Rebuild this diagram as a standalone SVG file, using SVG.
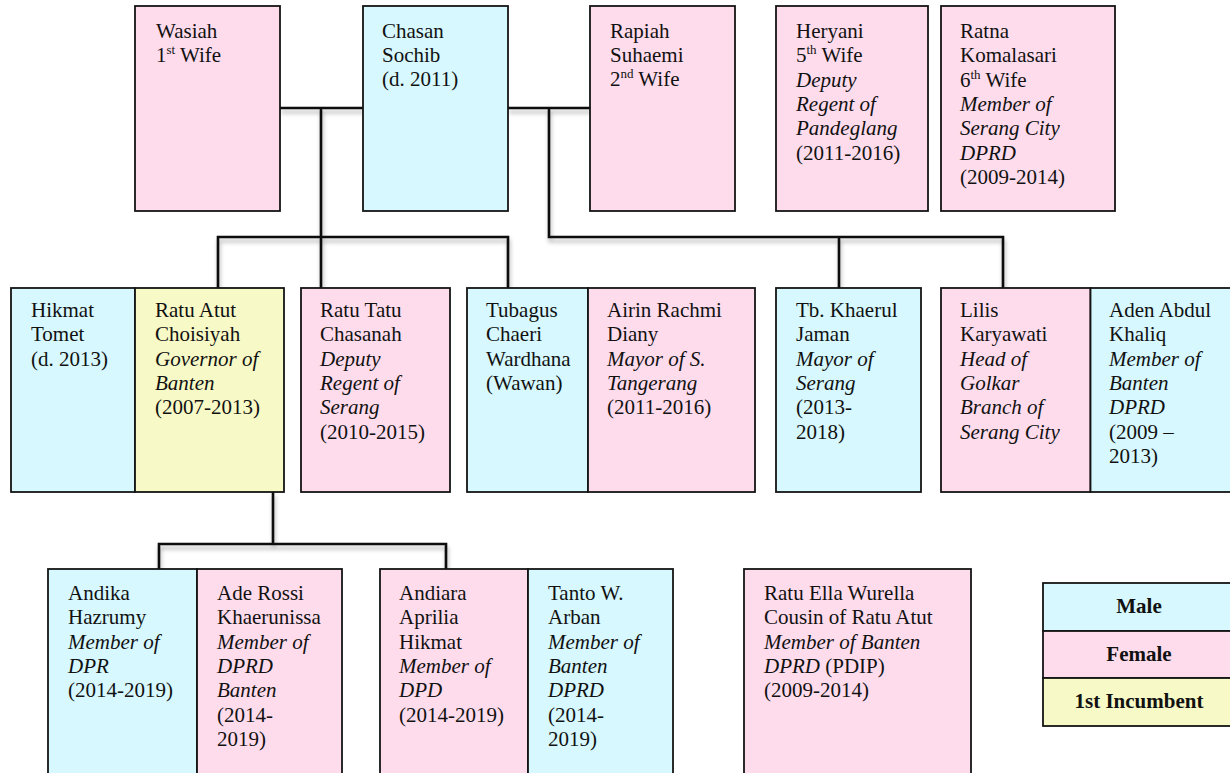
<svg xmlns="http://www.w3.org/2000/svg" width="1230" height="773" viewBox="0 0 1230 773">
<style>
.box{stroke:#141414;stroke-width:1.8}
.m{fill:#D6F8FE}
.f{fill:#FEDCEC}
.y{fill:#F7F9C6}
text{font-family:"Liberation Serif","Times New Roman",serif;font-size:21px;fill:#111}
.i{font-style:italic}
.b{font-weight:bold}
.sup{font-size:13px}
.lg{text-anchor:middle;font-weight:bold}
#connectors path{fill:none;stroke:#111;stroke-width:2.6}
</style>
<defs>
<filter id="sh" x="-10%" y="-10%" width="130%" height="130%">
<feDropShadow dx="1" dy="4" stdDeviation="2" flood-color="#000" flood-opacity="0.3"/>
</filter>
</defs>
<rect width="1230" height="773" fill="#fff"/>

<g id="connectors" filter="url(#sh)">
<path d="M280 108H363"/>
<path d="M321 108V288"/>
<path d="M218 288V237H508V288"/>
<path d="M508 108H590"/>
<path d="M549 108V237H1003V288"/>
<path d="M839 237V288"/>
<path d="M273 492V544"/>
<path d="M159 569V544H446V569"/>
</g>

<g id="wasiah"><rect class="box f" x="135" y="6" width="145" height="205"/>
<text x="156" y="38">Wasiah</text>
<text x="156" y="62">1<tspan class="sup" dy="-8">st</tspan><tspan dy="8"> Wife</tspan></text></g>

<g id="chasan"><rect class="box m" x="363" y="6" width="145" height="205"/>
<text x="382" y="38">Chasan</text>
<text x="382" y="62">Sochib</text>
<text x="382" y="86">(d. 2011)</text></g>

<g id="rapiah"><rect class="box f" x="590" y="6" width="145" height="205"/>
<text x="610" y="38">Rapiah</text>
<text x="610" y="62">Suhaemi</text>
<text x="610" y="86">2<tspan class="sup" dy="-8">nd</tspan><tspan dy="8"> Wife</tspan></text></g>

<g id="heryani"><rect class="box f" x="776" y="6" width="152" height="205"/>
<text x="796" y="38">Heryani</text>
<text x="796" y="62">5<tspan class="sup" dy="-8">th</tspan><tspan dy="8"> Wife</tspan></text>
<text x="796" y="87" class="i">Deputy</text>
<text x="796" y="111" class="i">Regent of</text>
<text x="796" y="135" class="i">Pandeglang</text>
<text x="796" y="160">(2011-2016)</text></g>

<g id="ratna"><rect class="box f" x="941" y="6" width="174" height="205"/>
<text x="960" y="38">Ratna</text>
<text x="960" y="62">Komalasari</text>
<text x="960" y="87">6<tspan class="sup" dy="-8">th</tspan><tspan dy="8"> Wife</tspan></text>
<text x="960" y="111" class="i">Member of</text>
<text x="960" y="135" class="i">Serang City</text>
<text x="960" y="160" class="i">DPRD</text>
<text x="960" y="184">(2009-2014)</text></g>

<g id="hikmat"><rect class="box m" x="11" y="288" width="124" height="204"/>
<text x="31" y="317">Hikmat</text>
<text x="31" y="341">Tomet</text>
<text x="31" y="366">(d. 2013)</text></g>

<g id="ratu-atut"><rect class="box y" x="135" y="288" width="149" height="204"/>
<text x="155" y="317">Ratu Atut</text>
<text x="155" y="341">Choisiyah</text>
<text x="155" y="366" class="i">Governor of</text>
<text x="155" y="390" class="i">Banten</text>
<text x="155" y="414">(2007-2013)</text></g>

<g id="ratu-tatu"><rect class="box f" x="301" y="288" width="149" height="204"/>
<text x="320" y="317">Ratu Tatu</text>
<text x="320" y="341">Chasanah</text>
<text x="320" y="366" class="i">Deputy</text>
<text x="320" y="390" class="i">Regent of</text>
<text x="320" y="414" class="i">Serang</text>
<text x="320" y="439">(2010-2015)</text></g>

<g id="tubagus"><rect class="box m" x="467" y="288" width="121" height="204"/>
<text x="486" y="317">Tubagus</text>
<text x="486" y="341">Chaeri</text>
<text x="486" y="366">Wardhana</text>
<text x="486" y="390">(Wawan)</text></g>

<g id="airin"><rect class="box f" x="588" y="288" width="167" height="204"/>
<text x="607" y="317">Airin Rachmi</text>
<text x="607" y="341">Diany</text>
<text x="607" y="366" class="i">Mayor of S.</text>
<text x="607" y="390" class="i">Tangerang</text>
<text x="607" y="414">(2011-2016)</text></g>

<g id="tb-khaerul"><rect class="box m" x="776" y="288" width="145" height="204"/>
<text x="796" y="317">Tb. Khaerul</text>
<text x="796" y="341">Jaman</text>
<text x="796" y="366" class="i">Mayor of</text>
<text x="796" y="390" class="i">Serang</text>
<text x="796" y="414">(2013-</text>
<text x="796" y="439">2018)</text></g>

<g id="lilis"><rect class="box f" x="941" y="288" width="149.5" height="204"/>
<text x="960" y="317">Lilis</text>
<text x="960" y="341">Karyawati</text>
<text x="960" y="366" class="i">Head of</text>
<text x="960" y="390" class="i">Golkar</text>
<text x="960" y="414" class="i">Branch of</text>
<text x="960" y="439" class="i">Serang City</text></g>

<g id="aden"><rect class="box m" x="1090.5" y="288" width="150" height="204"/>
<text x="1109" y="317">Aden Abdul</text>
<text x="1109" y="341">Khaliq</text>
<text x="1109" y="366" class="i">Member of</text>
<text x="1109" y="390" class="i">Banten</text>
<text x="1109" y="414" class="i">DPRD</text>
<text x="1109" y="439">(2009 –</text>
<text x="1109" y="463">2013)</text></g>

<g id="andika"><rect class="box m" x="48" y="569" width="149" height="215"/>
<text x="68" y="600">Andika</text>
<text x="68" y="624">Hazrumy</text>
<text x="68" y="649" class="i">Member of</text>
<text x="68" y="673" class="i">DPR</text>
<text x="68" y="697">(2014-2019)</text></g>

<g id="ade-rossi"><rect class="box f" x="197" y="569" width="145" height="215"/>
<text x="217" y="600">Ade Rossi</text>
<text x="217" y="624">Khaerunissa</text>
<text x="217" y="649" class="i">Member of</text>
<text x="217" y="673" class="i">DPRD</text>
<text x="217" y="697" class="i">Banten</text>
<text x="217" y="722">(2014-</text>
<text x="217" y="746">2019)</text></g>

<g id="andiara"><rect class="box f" x="380" y="569" width="148" height="215"/>
<text x="399" y="600">Andiara</text>
<text x="399" y="624">Aprilia</text>
<text x="399" y="649">Hikmat</text>
<text x="399" y="673" class="i">Member of</text>
<text x="399" y="697" class="i">DPD</text>
<text x="399" y="722">(2014-2019)</text></g>

<g id="tanto"><rect class="box m" x="528" y="569" width="145" height="215"/>
<text x="548" y="600">Tanto W.</text>
<text x="548" y="624">Arban</text>
<text x="548" y="649" class="i">Member of</text>
<text x="548" y="673" class="i">Banten</text>
<text x="548" y="697" class="i">DPRD</text>
<text x="548" y="722">(2014-</text>
<text x="548" y="746">2019)</text></g>

<g id="ratu-ella"><rect class="box f" x="744" y="569" width="227" height="215"/>
<text x="764" y="600">Ratu Ella Wurella</text>
<text x="764" y="624">Cousin of Ratu Atut</text>
<text x="764" y="649" class="i">Member of Banten</text>
<text x="764" y="673"><tspan class="i">DPRD</tspan> (PDIP)</text>
<text x="764" y="697">(2009-2014)</text></g>

<g id="legend">
<rect class="box m" x="1043" y="583" width="195" height="48"/>
<rect class="box f" x="1043" y="631" width="195" height="47"/>
<rect class="box y" x="1043" y="678" width="195" height="48"/>
<text class="lg" x="1139" y="613">Male</text>
<text class="lg" x="1139" y="661">Female</text>
<text class="lg" x="1139" y="708">1st Incumbent</text>
</g>
</svg>
